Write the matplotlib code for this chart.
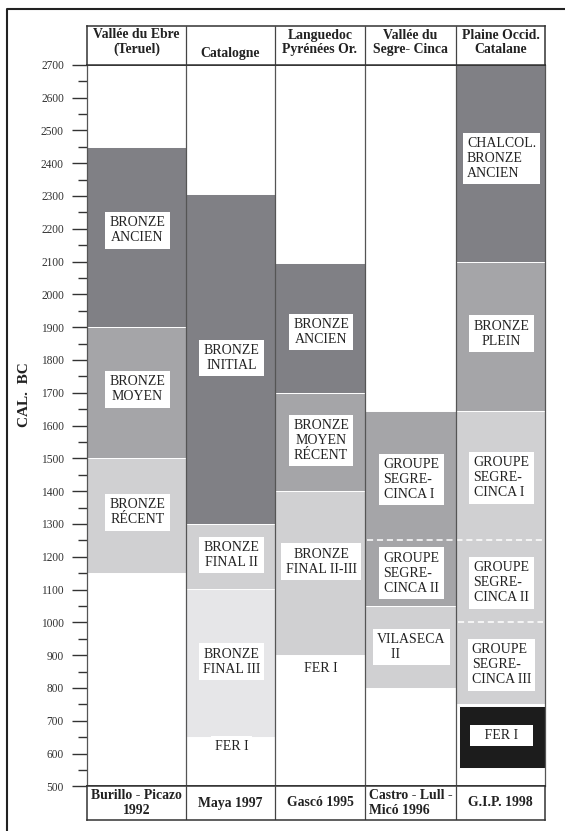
import matplotlib
matplotlib.use('Agg')
import matplotlib.pyplot as plt
import numpy as np
from matplotlib.lines import Line2D
from matplotlib.ticker import MultipleLocator

plt.rcParams['font.family'] = ['Liberation Serif', 'DejaVu Serif']

# columns (regions) with header and reference
headers = ['Vallée du Ebre\n(Teruel)', 'Catalogne', 'Languedoc\nPyrénées Or.',
           'Vallée du\nSegre- Cinca', 'Plaine Occid.\nCatalane']
refs = ['Burillo - Picazo\n1992', 'Maya 1997', 'Gascó 1995',
        'Castro - Lull -\nMicó 1996', 'G.I.P. 1998']

# period blocks: column, start (older), end (younger), shade
block_col = [0, 0, 0, 1, 1, 1, 2, 2, 2, 3, 3, 4, 4, 4, 4]
block_start = [2450, 1900, 1500, 2305, 1300, 1100, 2095, 1700, 1400, 1645, 1050, 2700, 2100, 1645, 745]
block_end = [1900, 1500, 1150, 1300, 1100, 650, 1700, 1400, 900, 1050, 800, 2100, 1645, 750, 555]
block_shade = ['dark', 'mid', 'light', 'dark', 'light', 'pale', 'dark', 'mid', 'light',
               'mid', 'light', 'dark', 'mid', 'light', 'black']

# period names
label_col = [0, 0, 0, 1, 1, 1, 1, 2, 2, 2, 2, 3, 3, 3, 4, 4, 4, 4, 4, 4]
label_year = [2195, 1710, 1335, 1805, 1205, 880, 620, 1885, 1555, 1185, 860,
              1435, 1150, 925, 2415, 1880, 1440, 1120, 870, 655]
label_text = ['BRONZE\nANCIEN', 'BRONZE\nMOYEN', 'BRONZE\nRÉCENT',
              'BRONZE\nINITIAL', 'BRONZE\nFINAL II', 'BRONZE\nFINAL III', 'FER I',
              'BRONZE\nANCIEN', 'BRONZE\nMOYEN\nRÉCENT', 'BRONZE\nFINAL II-III', 'FER I',
              'GROUPE\nSEGRE-\nCINCA I', 'GROUPE\nSEGRE-\nCINCA II', 'VILASECA\n    II',
              'CHALCOL.\nBRONZE\nANCIEN', 'BRONZE\nPLEIN',
              'GROUPE\nSEGRE-\nCINCA I', 'GROUPE\nSEGRE-\nCINCA II', 'GROUPE\nSEGRE-\nCINCA III',
              '   FER I   ']
label_align = ['center'] * 11 + ['left'] * 3 + ['left', 'center', 'left', 'left', 'left', 'center']

# dashed sub-divisions
dash_year = [1250, 1000]
dash_first_col = [3, 4]
dash_last_col = [4, 4]

shades = {'dark': '#808085', 'mid': '#a5a5a8', 'light': '#d0d0d2',
          'pale': '#e6e6e8', 'black': '#1c1c1c'}

W, H = 565, 831
def fx(px):
    return px / W
def fy(py):
    return 1 - py / H

col_widths = [99, 89, 90, 91, 89]
edges = np.concatenate([[0], np.cumsum(col_widths)])
centers = edges[:-1] + np.array(col_widths) / 2
total = edges[-1]

fig = plt.figure(figsize=(W / 100, H / 100), dpi=100)
ax = fig.add_axes([fx(87), fy(786.3), fx(545) - fx(87), fy(64.7) - fy(786.3)])
ax.set_xlim(0, total)
ax.set_ylim(500, 2700)

for c, s, e, sh in zip(block_col, block_start, block_end, block_shade):
    inset = 3 if sh == 'black' else 0
    ax.bar(edges[c] + inset, s - e, width=col_widths[c] - inset, bottom=e, align='edge',
           color=shades[sh], edgecolor='white', linewidth=0.7, zorder=1)

for y, c0, c1 in zip(dash_year, dash_first_col, dash_last_col):
    ax.plot([edges[c0] + 2, edges[c1 + 1] - 2], [y, y], color='white', lw=1.1,
            dashes=(4, 2.5), zorder=2)

ax.vlines(edges[1:-1], 500, 2700, color='#555555', lw=0.9, zorder=3)

for c, y, t, al in zip(label_col, label_year, label_text, label_align):
    ax.text(centers[c] + 1, y, t, ha='center', va='center', multialignment=al,
            fontsize=10, color='#222222', linespacing=1.2, zorder=4,
            bbox=dict(boxstyle='square,pad=0.3', fc='white', ec='none'))

for side in ['left', 'right']:
    ax.spines[side].set_color('#555555')
    ax.spines[side].set_linewidth(0.9)
for side in ['top', 'bottom']:
    ax.spines[side].set_color('#333333')
    ax.spines[side].set_linewidth(1.3)

ax.set_xticks([])
ax.yaxis.set_major_locator(MultipleLocator(100))
ax.yaxis.set_minor_locator(MultipleLocator(50))
ax.tick_params(axis='y', which='major', length=10.8, width=1.0, pad=5.8,
               color='#333333', labelsize=8.3, labelcolor='#333333')
ax.tick_params(axis='y', which='minor', length=6.5, width=1.0, color='#333333')

# header row
hax = fig.add_axes([fx(87), fy(64.7), fx(545) - fx(87), fy(25.5) - fy(64.7)])
hax.set_xlim(0, total)
hax.set_ylim(64.7, 25.5)
hax.vlines(edges[1:-1], 25.5, 64.7, color='#444444', lw=0.9)
for i, t in enumerate(headers):
    yb = 53 if '\n' in t else 57
    hax.text(centers[i], yb, t, ha='center', va='baseline', fontsize=9.9,
             fontweight='bold', linespacing=1.12, color='#222222')

# reference row
fax = fig.add_axes([fx(87), fy(819.5), fx(545) - fx(87), fy(786.3) - fy(819.5)])
fax.set_xlim(0, total)
fax.set_ylim(819.5, 786.3)
fax.vlines(edges[1:-1], 786.3, 819.5, color='#444444', lw=0.9)
for i, t in enumerate(refs):
    al = 'left' if i == 3 else 'center'
    fax.text(centers[i], 803, t, ha='center', va='center', multialignment=al,
             fontsize=9.9, fontweight='bold', linespacing=1.22, color='#222222')

for a in [hax, fax]:
    a.set_xticks([])
    a.set_yticks([])
    for sp in a.spines.values():
        sp.set_color('#333333')
        sp.set_linewidth(1.1)

fig.text(fx(25), fy(395), 'CAL.  BC', rotation=90, ha='center', va='center',
         fontsize=11, fontweight='bold', color='#222222')

fig.add_artist(Line2D([fx(7), fx(7), 1.0], [0, fy(9), fy(9)], transform=fig.transFigure,
                      color='#222222', lw=1.5))

plt.savefig('out.png', dpi=100)
